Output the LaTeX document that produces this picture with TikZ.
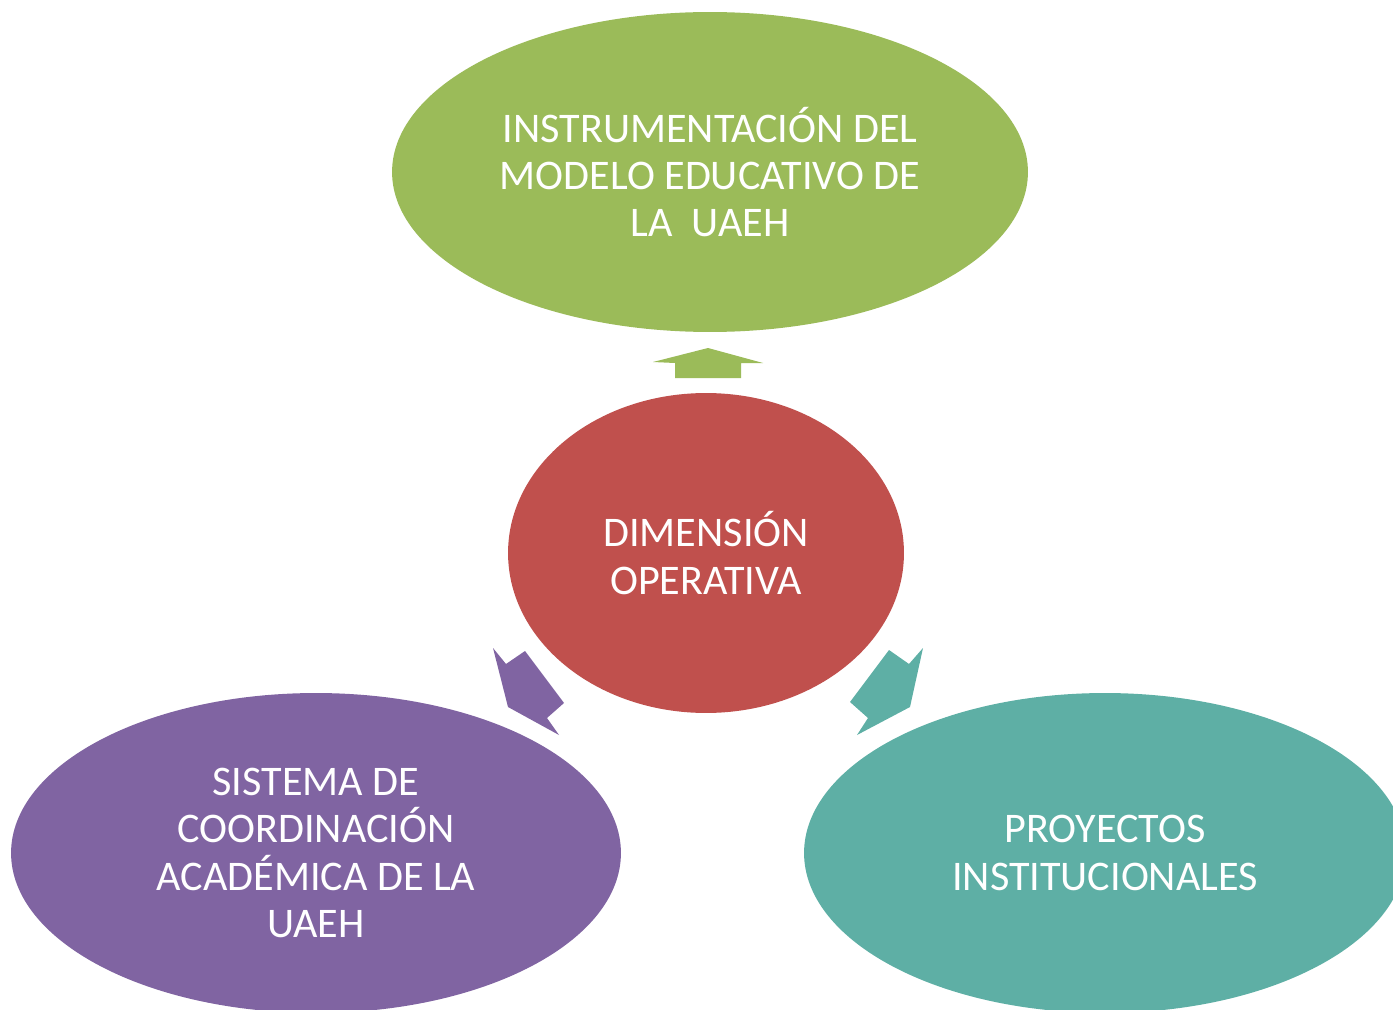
\documentclass[tikz,border=0pt]{standalone}
\usepackage{fontspec}
\setmainfont{Carlito}
\usepackage{tikz}
\usetikzlibrary{shapes.geometric}

\definecolor{dimgreen}{RGB}{155,187,89}
\definecolor{dimred}{RGB}{192,80,77}
\definecolor{dimpurple}{RGB}{128,100,162}
\definecolor{dimteal}{RGB}{94,175,165}

\tikzset{
  blob/.style={ellipse, inner sep=0pt, align=center, text=white,
               font=\fontsize{24}{26.8}\selectfont},
}

\begin{document}
\begin{tikzpicture}[x=0.02cm, y=-0.02cm]
        \useasboundingbox (0,0) rectangle (1393,1010);               %
        \clip (0,0) rectangle (1393,1010);                           %
        \node [blob, fill=dimgreen, minimum width=12.72cm, minimum height=6.4cm]
              (modelo) at (710,172)
              {INSTRUMENTACIÓN DEL\\MODELO EDUCATIVO DE\\LA\ \ UAEH}; %top
        \node [blob, fill=dimred, minimum width=7.92cm, minimum height=6.4cm]
              (dimension) at (706,553)
              {DIMENSIÓN\\OPERATIVA};                                %centre
        \node [blob, fill=dimpurple, minimum width=12.2cm, minimum height=6.4cm]
              (sistema) at (316,853)
              {SISTEMA DE\\COORDINACIÓN\\ACADÉMICA DE LA\\UAEH};     %left
        \node [blob, fill=dimteal, minimum width=12.04cm, minimum height=6.4cm]
              (proyectos) at (1105,853)
              {PROYECTOS\\INSTITUCIONALES};                          %right

        \fill [dimgreen]  (708,348) -- (763,363) -- (741,363) -- (741,378)
                          -- (675,378) -- (675,363) -- (653,362) -- cycle;   %up
        \fill [dimpurple] (493,648) -- (506,664) -- (525,651) -- (564,703)
                          -- (547,718) -- (559,735) -- (508,707) -- cycle;   %left
        \fill [dimteal]   (923,648) -- (909,664) -- (889,650) -- (850,702)
                          -- (868,718) -- (857,735) -- (910,707) -- cycle;   %right
\end{tikzpicture}
\end{document}
